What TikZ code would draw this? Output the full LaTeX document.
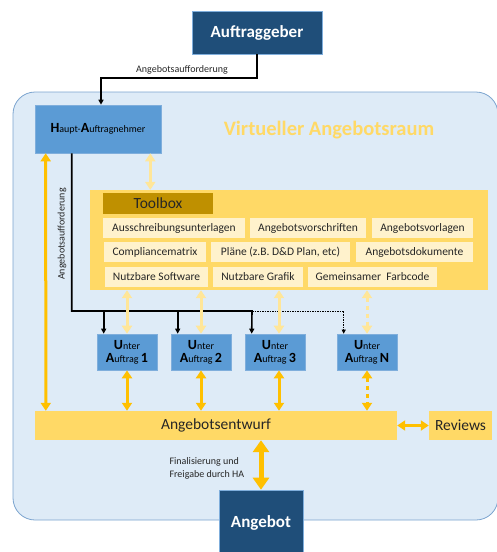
\documentclass[tikz,border=0pt]{standalone}
\usepackage{fontspec}
\setmainfont{Carlito}
\usetikzlibrary{arrows.meta,calc}
\definecolor{darkblue}{HTML}{1F4E79}
\definecolor{midblue}{HTML}{5B9BD5}
\definecolor{rimblue}{HTML}{7FAEDC}
\definecolor{raumfill}{HTML}{DEEBF7}
\definecolor{raumdraw}{HTML}{7BA4CF}
\definecolor{gold}{HTML}{FFC000}
\definecolor{paleyellow}{HTML}{FFE699}
\definecolor{boxyellow}{HTML}{FFD966}
\definecolor{itemyellow}{HTML}{FFF2CC}
\definecolor{headgold}{HTML}{BF9000}
\definecolor{ink}{HTML}{262626}
\tikzset{
  outer/.style={fill=darkblue,draw=rimblue,line width=0.6pt,text=white,
    font=\fontsize{17}{19}\selectfont\bfseries,inner sep=0pt},
  party/.style={fill=midblue,draw=rimblue,line width=0.6pt,text=black,
    align=center,inner sep=0pt,minimum width=60,minimum height=36,
    font=\fontsize{10}{13}\selectfont},
  toolitem/.style={fill=itemyellow,text=ink,inner sep=0pt,minimum height=20,
    font=\fontsize{11.5}{13}\selectfont},
  bar/.style={fill=boxyellow,text=ink,inner sep=0pt,minimum height=29,
    font=\fontsize{15.5}{17}\selectfont},
  req/.style={draw=black,line width=1.6pt,-{Triangle[width=5pt,length=5pt]}},
  reqdot/.style={draw=black,line width=0.6pt,dash pattern=on 1.5pt off 1pt,
    -{Triangle[width=4pt,length=4pt]}},
  pale/.style={draw=paleyellow,line width=3pt,
    {Triangle[width=10pt,length=8pt]}-{Triangle[width=10pt,length=8pt]}},
  flow/.style={draw=gold,line width=3pt,
    {Triangle[width=10pt,length=8pt]}-{Triangle[width=10pt,length=8pt]}},
  dotflow/.style={dash pattern=on 4pt off 4pt},
  note/.style={font=\fontsize{10}{13}\selectfont,text=ink},
}
\newcommand{\initial}[1]{{\fontsize{14}{14}\selectfont\bfseries #1}}
\begin{document}
\begin{tikzpicture}[x=1pt,y=-1pt]
    \useasboundingbox (0,0) rectangle (497,552);
    % virtual room
    \draw [fill=raumfill,draw=raumdraw,line width=0.8pt,rounded corners=22]
      (13,92) rectangle (498,520);
    \node (raumtitle) [text=boxyellow,font=\fontsize{20.5}{22}\selectfont\bfseries]
      at (329,130) {Virtueller Angebotsraum};
    % set nodes
    \node (auftrag) [outer,minimum width=130,minimum height=43] at (257,32.5) {Auftraggeber};
    \node (ha) [party,minimum width=126,minimum height=48] at (98,129)
      {\initial{H}aupt-\initial{A}uftragnehmer};
    \node (toolbox) [fill=boxyellow,inner sep=0pt,minimum width=398,minimum height=100]
      at (289,240) {};
    \node (toolhead) [fill=headgold,text=ink,inner sep=0pt,minimum width=110,
      minimum height=21,font=\fontsize{15.5}{17}\selectfont] at (158,203.5) {Toolbox};
    \node (t1) [toolitem,minimum width=142] at (174,228) {Ausschreibungsunterlagen};
    \node (t2) [toolitem,minimum width=116] at (308,228) {Angebotsvorschriften};
    \node (t3) [toolitem,minimum width=101] at (422.5,228) {Angebotsvorlagen};
    \node (t4) [toolitem,minimum width=102] at (155,252) {Compliancematrix};
    \node (t5) [toolitem,minimum width=139] at (280.5,252) {Pläne (z.B. D\&D Plan, etc)};
    \node (t6) [toolitem,minimum width=117] at (414.5,252) {Angebotsdokumente};
    \node (t7) [toolitem,minimum width=103] at (156.5,277) {Nutzbare Software};
    \node (t8) [toolitem,minimum width=90] at (258,277) {Nutzbare Grafik};
    \node (t9) [toolitem,minimum width=129] at (372.5,277) {Gemeinsamer\ \ Farbcode};
    \node (u1) [party] at (127,352) {\initial{U}nter\\\initial{A}uftrag \initial{1}};
    \node (u2) [party] at (201,352) {\initial{U}nter\\\initial{A}uftrag \initial{2}};
    \node (u3) [party] at (275,352) {\initial{U}nter\\\initial{A}uftrag \initial{3}};
    \node (un) [party] at (367,352) {\initial{U}nter\\\initial{A}uftrag \initial{N}};
    \node (entwurf) [bar,minimum width=362] at (216,425.5) {Angebotsentwurf};
    \node (reviews) [bar,minimum width=63] at (460.5,425.5) {Reviews};
    \node (angebot) [outer,minimum width=84,minimum height=66] at (261,523) {Angebot};
    % request from client
    \coordinate (bend) at (101,78);
    \draw [req] (auftrag.south) |- (bend) -- ([xshift=3]ha.north);
    \node (req1) [note,above] at (182,78) {Angebotsaufforderung};
    % requests to sub contracts
    \coordinate (bus) at (252,311);
    \draw [req] ([xshift=37]ha.south west) |- (bus) -- ([xshift=7]u3.north west);
    \draw [req] ([xshift=7]u1.north west |- bus) -- ([xshift=7]u1.north west);
    \draw [req] ([xshift=7]u2.north west |- bus) -- ([xshift=7]u2.north west);
    \draw [reqdot] (bus) -| ([xshift=7]un.north west);
    \node (req2) [note,rotate=90] at (62,234) {Angebotsaufforderung};
    % toolbox access
    \draw [pale] ([xshift=-11]ha.south east) -- ([xshift=-11]ha.south east |- toolbox.north);
    \draw [pale] (toolbox.south -| u1.north) -- (u1.north);
    \draw [pale] (toolbox.south -| u2.north) -- (u2.north);
    \draw [pale] ([xshift=4]toolbox.south -| u3.north) -- ([xshift=4]u3.north);
    \draw [pale,dotflow] (toolbox.south -| un.north) -- (un.north);
    % contributions to draft
    \draw [flow] ([xshift=11]ha.south west) -- ([xshift=11]entwurf.north west);
    \draw [flow] (u1.south) -- (u1.south |- entwurf.north);
    \draw [flow] (u2.south) -- (u2.south |- entwurf.north);
    \draw [flow] ([xshift=4]u3.south) -- ([xshift=4]u3.south |- entwurf.north);
    \draw [flow,dotflow] (un.south) -- (un.south |- entwurf.north);
    \draw [flow] (entwurf.east) -- (reviews.west);
    \draw [draw=gold,line width=5pt,
      {Triangle[width=16pt,length=12pt]}-{Triangle[width=16pt,length=12pt]}]
      (entwurf.south -| angebot.north) -- (angebot.north);
    \node (final) [note,anchor=west,align=left] at (166,468)
      {Finalisierung und\\Freigabe durch HA};
\end{tikzpicture}
\end{document}
